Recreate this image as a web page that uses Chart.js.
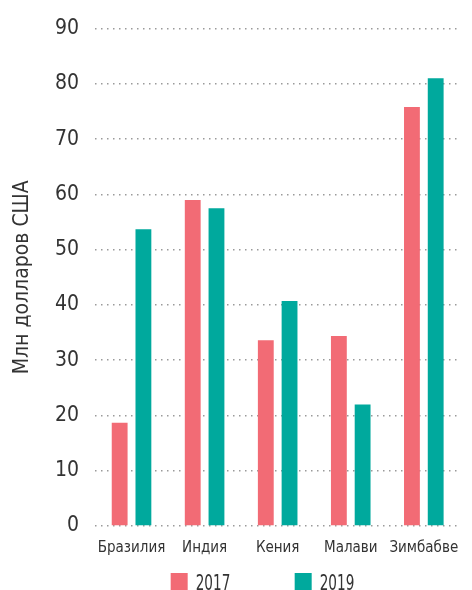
<!DOCTYPE html>
<html>
<head>
<meta charset="utf-8">
<script src="https://cdn.jsdelivr.net/npm/chart.js@4/dist/chart.umd.min.js"></script>
<style>
  html, body { margin: 0; padding: 0; background: #fff; }
  canvas { display: block; }
</style>
</head>
<body>
<canvas id="fundingChart" width="472" height="590"></canvas>
<script>
// Chart data
const countries = ['Бразилия', 'Индия', 'Кения', 'Малави', 'Зимбабве'];
const years = ['2017', '2019'];
const values2017 = [18.7, 59.0, 33.6, 34.4, 75.8];
const values2019 = [53.7, 57.5, 40.7, 22.0, 81.0];
const yTicks = [0, 10, 20, 30, 40, 50, 60, 70, 80, 90];
const axisTitle = 'Млн долларов США';

const colors = ['#f26b75', '#00a99d'];
const textColor = '#333333';
const fontFamily = '"DejaVu Sans", sans-serif';
// font-stretch keyword goes in the weight slot of Chart.js font string
const stretch = 'condensed';

// Simple legend under the x labels (squares + year)
const bottomLegend = {
    id: 'bottomLegend',
    afterDraw(chart) {
        const { ctx, chartArea } = chart;
        const box = 17;
        const step = 124;
        const startX = (chartArea.left + chartArea.right) / 2 - 107;
        const y = 573;
        ctx.save();
        chart.data.datasets.forEach((ds, i) => {
            const x = startX + i * step;
            ctx.fillStyle = ds.backgroundColor;
            ctx.fillRect(x, y, box, box);
            // narrow year labels
            ctx.save();
            ctx.translate(x + box + 8, y + box);
            ctx.scale(0.72, 1);
            ctx.font = stretch + ' 21px ' + fontFamily;
            ctx.textBaseline = 'alphabetic';
            ctx.fillStyle = textColor;
            ctx.fillText(ds.label, 0, 0);
            ctx.restore();
        });
        ctx.restore();
    },
};

const ctx = document.getElementById('fundingChart');
new Chart(ctx.getContext('2d'), {
    type: 'bar',
    data: {
        labels: countries,
        datasets: [
            { label: years[0], data: values2017, backgroundColor: colors[0] },
            { label: years[1], data: values2019, backgroundColor: colors[1] },
        ],
    },
    options: {
        responsive: false,
        animation: false,
        categoryPercentage: 0.65,
        barPercentage: 0.667,
        layout: { padding: { top: 27, right: 8, left: 0, bottom: 0 } },
        plugins: {
            legend: { display: false },
            tooltip: { enabled: false },
        },
        scales: {
            x: {
                grid: { display: false, drawTicks: false },
                border: { display: false },
                ticks: {
                    color: textColor,
                    padding: 13,
                    maxRotation: 0,
                    autoSkip: false,
                    font: { family: fontFamily, size: 15, weight: stretch },
                },
                afterFit: (scale) => { scale.height = 64; },
            },
            y: {
                min: 0,
                max: 90,
                afterBuildTicks: (scale) => {
                    scale.ticks = yTicks.map((v) => ({ value: v }));
                },
                grid: {
                    color: '#9a9a9a',
                    lineWidth: 1.5,
                    drawTicks: false,
                },
                border: { display: false, dash: [1.5, 4.5] },
                ticks: {
                    color: textColor,
                    padding: 16,
                    font: { family: fontFamily, size: 21, weight: stretch },
                },
                title: {
                    display: true,
                    text: axisTitle,
                    color: textColor,
                    padding: { top: 10, bottom: 0 },
                    font: { family: fontFamily, size: 21, weight: stretch },
                },
                afterFit: (scale) => { scale.width = 95; },
            },
        },
    },
    plugins: [bottomLegend],
});
</script>
</body>
</html>
